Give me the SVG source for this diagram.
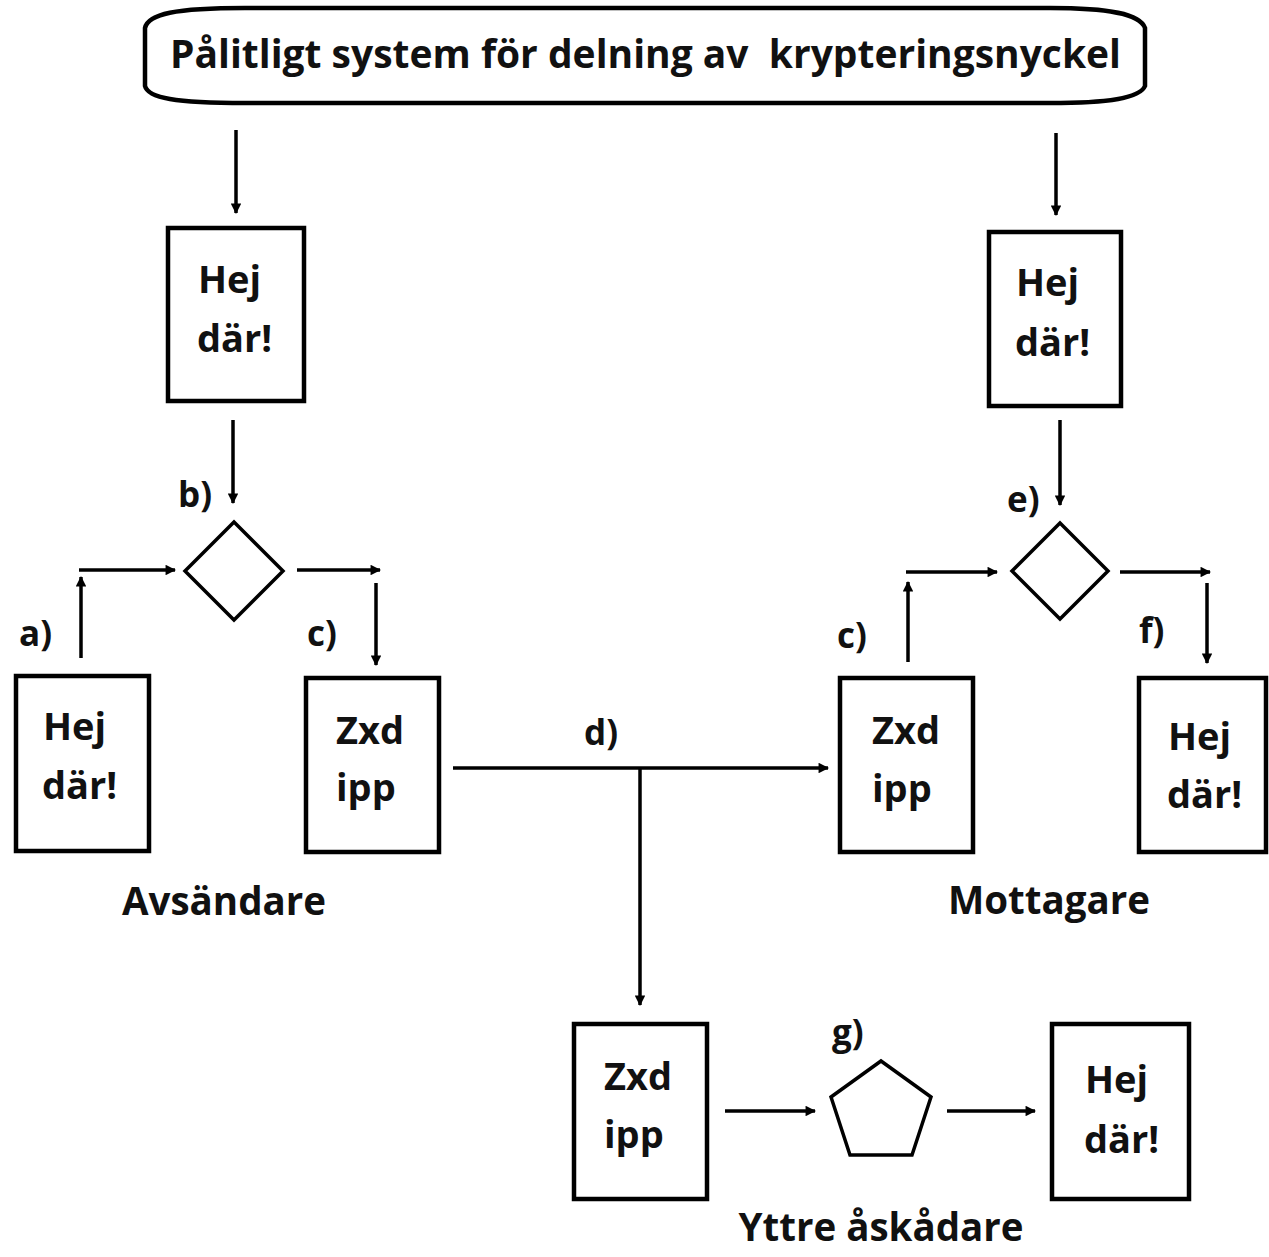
<svg xmlns="http://www.w3.org/2000/svg" width="1269" height="1257" viewBox="0 0 1269 1257">
<defs>
<style>
.t{font-family:"Open Sans","Noto Sans","Liberation Sans",sans-serif;font-weight:bold;fill:#111;}
.big{font-size:38px;}
.lbl{font-size:35px;}
.cap{font-size:38.5px;}
.box{fill:#fff;stroke:#000;stroke-width:4.5;}
.shape{fill:#fff;stroke:#000;stroke-width:3.5;stroke-linejoin:miter;}
.c{fill:none;stroke:#000;stroke-width:3.5;}
</style>
<marker id="ah" viewBox="0 0 10 10" refX="9" refY="5" markerWidth="3.2" markerHeight="3" orient="auto" markerUnits="strokeWidth">
<path d="M0,0 L10,5 L0,10 Z" fill="#000"/>
</marker>
</defs>
<rect width="1269" height="1257" fill="#fff"/>

<g id="title">
<path class="box" d="M245,8 L1050,8 C1110,8 1140,14 1145,28 L1145,86 C1140,98 1110,103 1050,103 L245,103 C175,103 148,98 145,86 L145,28 C148,14 175,8 245,8 Z"/>
<text class="t" x="170" y="68" font-size="39" textLength="951" lengthAdjust="spacingAndGlyphs" xml:space="preserve">Pålitligt system för delning av  krypteringsnyckel</text>
</g>

<g id="connectors">
<line class="c" x1="236" y1="130" x2="236" y2="213" marker-end="url(#ah)"/>
<line class="c" x1="233" y1="420" x2="233" y2="503" marker-end="url(#ah)"/>
<line class="c" x1="81" y1="658" x2="81" y2="577" marker-end="url(#ah)"/>
<line class="c" x1="79" y1="570" x2="175" y2="570" marker-end="url(#ah)"/>
<line class="c" x1="297" y1="570" x2="380" y2="570" marker-end="url(#ah)"/>
<line class="c" x1="376" y1="583" x2="376" y2="665" marker-end="url(#ah)"/>
<line class="c" x1="453" y1="768" x2="828" y2="768" marker-end="url(#ah)"/>
<line class="c" x1="640" y1="768" x2="640" y2="1005" marker-end="url(#ah)"/>
<line class="c" x1="1056" y1="133" x2="1056" y2="215" marker-end="url(#ah)"/>
<line class="c" x1="1060" y1="420" x2="1060" y2="505" marker-end="url(#ah)"/>
<line class="c" x1="908" y1="662" x2="908" y2="582" marker-end="url(#ah)"/>
<line class="c" x1="906" y1="572" x2="997" y2="572" marker-end="url(#ah)"/>
<line class="c" x1="1120" y1="572" x2="1210" y2="572" marker-end="url(#ah)"/>
<line class="c" x1="1207" y1="583" x2="1207" y2="663" marker-end="url(#ah)"/>
<line class="c" x1="725" y1="1111" x2="815" y2="1111" marker-end="url(#ah)"/>
<line class="c" x1="947" y1="1111" x2="1035" y2="1111" marker-end="url(#ah)"/>
</g>

<g id="sender-plain-top">
<rect class="box" x="168" y="228" width="136" height="173"/>
<text class="t big" x="198" y="293">Hej</text>
<text class="t big" x="197" y="352">där!</text>
</g>

<g id="sender-plain">
<rect class="box" x="16" y="676" width="133" height="175"/>
<text class="t big" x="43" y="740">Hej</text>
<text class="t big" x="42" y="799">där!</text>
</g>

<g id="sender-cipher">
<rect class="box" x="306" y="678" width="133" height="174"/>
<text class="t big" x="336" y="744">Zxd</text>
<text class="t big" x="336" y="801">ipp</text>
</g>

<g id="sender-diamond">
<polygon class="shape" points="234,522 283,571 234,620 185,571"/>
</g>

<g id="receiver-plain-top">
<rect class="box" x="989" y="232" width="132" height="174"/>
<text class="t big" x="1016" y="296">Hej</text>
<text class="t big" x="1015" y="356">där!</text>
</g>

<g id="receiver-diamond">
<polygon class="shape" points="1060,523 1108,571 1060,619 1012,571"/>
</g>

<g id="receiver-cipher">
<rect class="box" x="840" y="678" width="133" height="174"/>
<text class="t big" x="872" y="744">Zxd</text>
<text class="t big" x="872" y="802">ipp</text>
</g>

<g id="receiver-plain">
<rect class="box" x="1139" y="678" width="127" height="174"/>
<text class="t big" x="1168" y="750">Hej</text>
<text class="t big" x="1167" y="808">där!</text>
</g>

<g id="observer-cipher">
<rect class="box" x="574" y="1024" width="133" height="175"/>
<text class="t big" x="604" y="1090">Zxd</text>
<text class="t big" x="604" y="1148">ipp</text>
</g>

<g id="observer-pentagon">
<polygon class="shape" points="881,1061 931,1097 912,1155 850,1155 831,1097"/>
</g>

<g id="observer-plain">
<rect class="box" x="1052" y="1024" width="137" height="175"/>
<text class="t big" x="1085" y="1093">Hej</text>
<text class="t big" x="1084" y="1153">där!</text>
</g>

<g id="labels">
<text class="t lbl" x="178" y="507">b)</text>
<text class="t lbl" x="19" y="646">a)</text>
<text class="t lbl" x="307" y="646">c)</text>
<text class="t lbl" x="584" y="745">d)</text>
<text class="t lbl" x="1007" y="512">e)</text>
<text class="t lbl" x="837" y="648">c)</text>
<text class="t lbl" x="1139" y="643">f)</text>
<text class="t lbl" x="832" y="1045">g)</text>
<text class="t cap" x="224" y="915" text-anchor="middle">Avsändare</text>
<text class="t cap" x="1049" y="914" text-anchor="middle">Mottagare</text>
<text class="t cap" x="881" y="1241" text-anchor="middle">Yttre åskådare</text>
</g>
</svg>
